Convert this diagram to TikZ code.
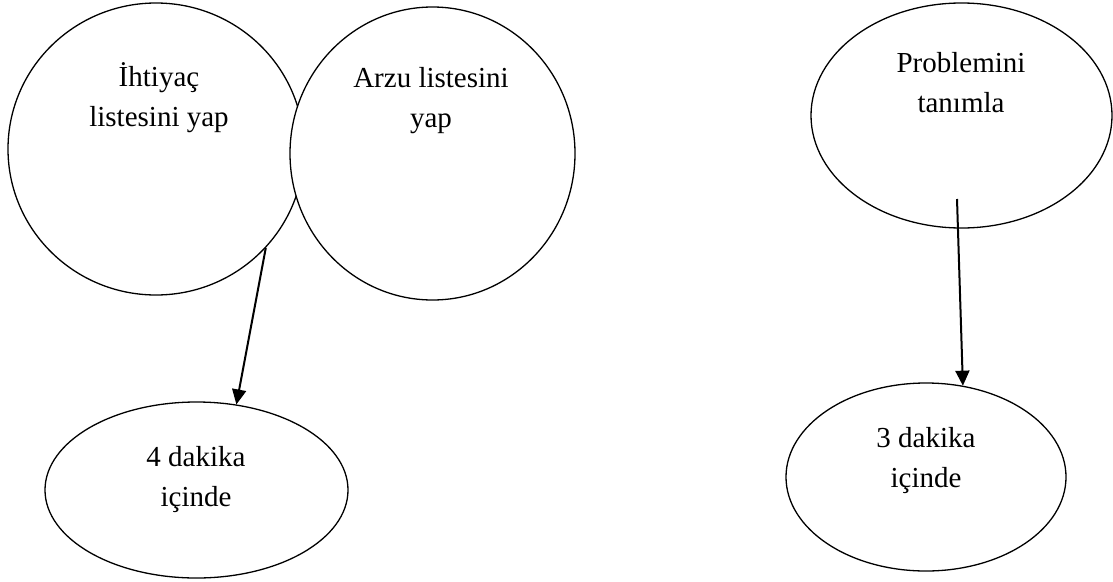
\documentclass[tikz,border=0pt]{standalone}
\usepackage{fontspec}
\setmainfont{Liberation Serif}
\usetikzlibrary{shapes.geometric,arrows.meta}
\begin{document}
\begin{tikzpicture}[x=1pt,y=-1pt,
  bubble/.style={draw=black,line width=1.3pt,ellipse,inner sep=0pt,fill=white},
  caption/.style={align=center,font=\fontsize{29}{40}\selectfont,inner sep=0pt},
  link/.style={draw=black,line width=2pt,-{Triangle[length=15pt,width=14pt]}}]
\useasboundingbox (0,0) rectangle (1113,581);

% left pair of overlapping bubbles (the second one covers the first)
\node[bubble,minimum width=296pt,minimum height=292pt] (c1) at (156,149) {};
\node[bubble,minimum width=285pt,minimum height=293pt] (c2) at (432.5,153.5) {};
\node[caption] (t1) at (159,98) {İhtiyaç\\listesini yap};
\node[caption] (t2) at (431,101) {Arzu listesini\\yap};

% right-hand bubble
\node[bubble,minimum width=301pt,minimum height=225pt] (c3) at (961.5,115.5) {};
\node[caption] (t3) at (961,83) {Problemini\\tanımla};

% time-limit bubbles
\node[bubble,minimum width=303pt,minimum height=176pt] (e4) at (196.5,490) {};
\node[caption] (t4) at (196,480) {4 dakika\\içinde};
\node[bubble,minimum width=280pt,minimum height=188pt] (e3) at (926,477) {};
\node[caption] (t5) at (926,461) {3 dakika\\içinde};

% connectors
\coordinate (p) at (957,199);
\draw[link] (c1.-42) -- (e4.65);
\draw[link] (p) -- (e3.68);
\end{tikzpicture}
\end{document}
